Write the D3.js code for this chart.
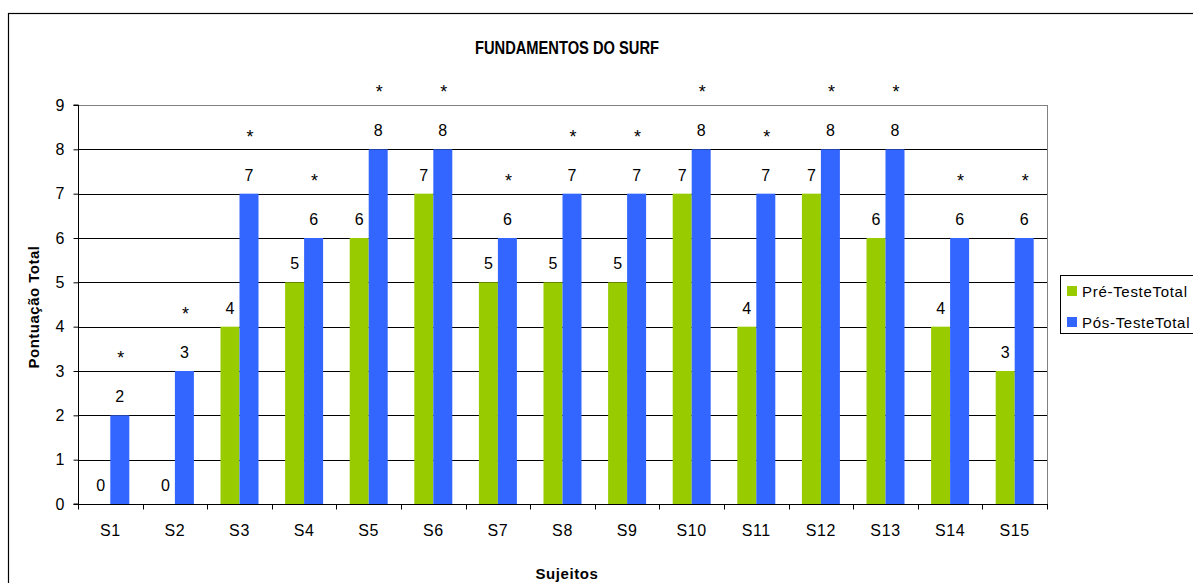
<!DOCTYPE html>
<html>
<head>
<meta charset="utf-8">
<script src="https://cdn.jsdelivr.net/npm/d3@7"></script>
<style>
  html, body { margin: 0; padding: 0; background: #fff; overflow: hidden; }
  svg text { font-family: "Liberation Sans", Arial, sans-serif; fill: #000; }
</style>
</head>
<body>
<svg id="chart" width="1193" height="583"></svg>
<script>
// Subjects and scores
const subjects = ["S1","S2","S3","S4","S5","S6","S7","S8","S9","S10","S11","S12","S13","S14","S15"];
const preTest  = [0, 0, 4, 5, 6, 7, 5, 5, 5, 7, 4, 7, 6, 4, 3];
const postTest = [2, 3, 7, 6, 8, 8, 6, 7, 7, 8, 7, 8, 8, 6, 6];
const seriesNames = ["Pré-TesteTotal", "Pós-TesteTotal"];
const seriesColors = ["#99CC00", "#3366FF"];
const yTicks = [0,1,2,3,4,5,6,7,8,9];

const svg = d3.select("#chart");

// outer chart frame
svg.append("rect")
  .attr("x", 8.5).attr("y", 13.5)
  .attr("width", 1200).attr("height", 600)
  .attr("fill", "#fff").attr("stroke", "#000").attr("stroke-width", 1.2);

const plot = { left: 78, right: 1047, top: 105, bottom: 504 };

const x = d3.scaleBand().domain(subjects).range([plot.left, plot.right]).padding(0);
const y = d3.scaleLinear().domain([0, 9]).range([plot.bottom, plot.top]);
const barW = 19;

// gridlines
svg.append("g").selectAll("line").data(yTicks.filter(d => d > 0)).join("line")
  .attr("x1", plot.left).attr("x2", plot.right)
  .attr("y1", d => Math.round(y(d)) + 0.5).attr("y2", d => Math.round(y(d)) + 0.5)
  .attr("stroke", d => d === 9 ? "#808080" : "#000").attr("stroke-width", 1);

// right border of plot area
svg.append("line")
  .attr("x1", plot.right + 0.5).attr("x2", plot.right + 0.5)
  .attr("y1", plot.top).attr("y2", plot.bottom)
  .attr("stroke", "#808080");

// bars
const data = subjects.map((s, i) => ({ s, pre: preTest[i], post: postTest[i] }));
const bars = svg.append("g");
bars.selectAll("rect.pre").data(data).join("rect")
  .attr("class", "pre")
  .attr("x", d => x(d.s) + x.bandwidth() / 2 - barW)
  .attr("width", barW)
  .attr("y", d => y(d.pre))
  .attr("height", d => y(0) - y(d.pre))
  .attr("fill", seriesColors[0]);
bars.selectAll("rect.post").data(data).join("rect")
  .attr("class", "post")
  .attr("x", d => x(d.s) + x.bandwidth() / 2)
  .attr("width", barW)
  .attr("y", d => y(d.post))
  .attr("height", d => y(0) - y(d.post))
  .attr("fill", seriesColors[1]);

// value labels
const labels = svg.append("g").attr("font-size", 16).attr("text-anchor", "middle");
labels.selectAll("text.pre").data(data).join("text")
  .attr("x", d => x(d.s) + x.bandwidth() / 2 - barW / 2)
  .attr("y", d => y(d.pre) - 13)
  .text(d => d.pre);
labels.selectAll("text.post").data(data).join("text")
  .attr("x", d => x(d.s) + x.bandwidth() / 2 + barW / 2)
  .attr("y", d => y(d.post) - 13)
  .text(d => d.post);
// significance markers
labels.selectAll("text.sig").data(data).join("text")
  .attr("x", d => x(d.s) + x.bandwidth() / 2 + barW / 2 + 1)
  .attr("y", d => y(d.post) - 51)
  .attr("font-size", 18)
  .text("*");

// axes
const yAxis = svg.append("g").attr("transform", `translate(${plot.left + 0.5},0)`)
  .call(d3.axisLeft(y).tickValues(yTicks).tickSize(5).tickPadding(9));
const xAxis = svg.append("g").attr("transform", `translate(0,${plot.bottom + 0.5})`)
  .call(d3.axisBottom(x).tickSize(0).tickPadding(20));
[yAxis, xAxis].forEach(g => {
  g.select(".domain").attr("stroke", "#000");
  g.selectAll("text").attr("font-size", 16).attr("font-family", "Liberation Sans, Arial, sans-serif");
  g.selectAll(".tick line").attr("stroke", "#000");
});
xAxis.selectAll("text").attr("letter-spacing", 0.6);
yAxis.select(".domain").attr("d", `M-5,${plot.top}H0V${plot.bottom}H-5`);
// category boundary ticks
xAxis.append("g").selectAll("line").data(d3.range(subjects.length + 1)).join("line")
  .attr("x1", i => Math.round(plot.left + i * x.bandwidth()) + 0.5)
  .attr("x2", i => Math.round(plot.left + i * x.bandwidth()) + 0.5)
  .attr("y1", 0).attr("y2", 5)
  .attr("stroke", "#000");
xAxis.select(".domain").attr("d", `M${plot.left},0H${plot.right + 1}`);

// title and axis titles
svg.append("text").attr("x", 567).attr("y", 54).attr("text-anchor", "middle")
  .attr("font-family", "'Liberation Sans Narrow', 'Liberation Sans', Arial, sans-serif")
  .attr("font-size", 19).attr("font-weight", "bold")
  .attr("textLength", 184).attr("lengthAdjust", "spacingAndGlyphs")
  .text("FUNDAMENTOS DO SURF");
svg.append("text").attr("x", 567).attr("y", 579).attr("text-anchor", "middle")
  .attr("font-size", 15).attr("font-weight", "bold").attr("letter-spacing", 0.6).text("Sujeitos");
svg.append("text").attr("transform", "translate(39,307) rotate(-90)").attr("text-anchor", "middle")
  .attr("font-size", 15).attr("font-weight", "bold").attr("letter-spacing", 0.5).text("Pontuação Total");

// legend
const legend = svg.append("g");
legend.append("rect").attr("x", 1060.5).attr("y", 275.5).attr("width", 150).attr("height", 58)
  .attr("fill", "#fff").attr("stroke", "#000").attr("stroke-width", 1);
seriesNames.forEach((n, i) => {
  legend.append("rect").attr("x", 1067).attr("y", 286 + i * 31).attr("width", 10).attr("height", 10)
    .attr("fill", seriesColors[i]);
  legend.append("text").attr("x", 1082).attr("y", 297 + i * 31).attr("font-size", 15)
    .attr("letter-spacing", 0.7).text(n);
});
</script>
</body>
</html>
